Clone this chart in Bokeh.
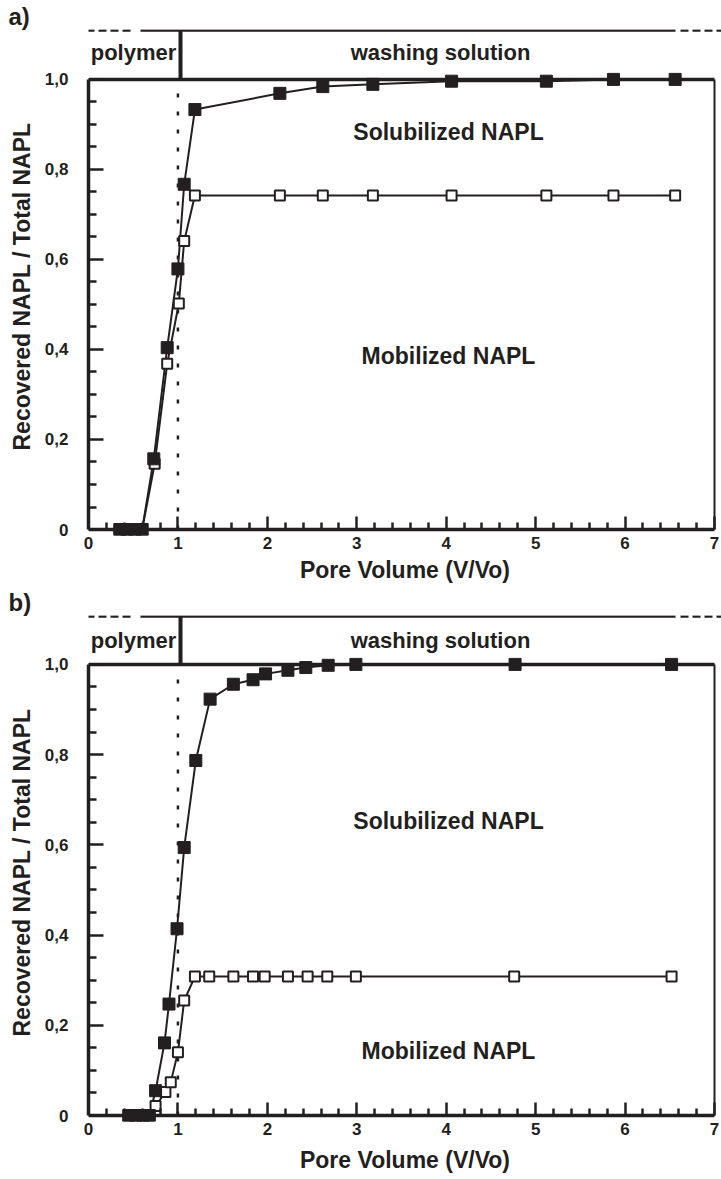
from bokeh.plotting import figure
from bokeh.layouts import column
from bokeh.models import Range1d, FixedTicker, LinearAxis, Title
from bokeh.embed import file_html
from bokeh.resources import INLINE
from bokeh.core.properties import value

INK = "#231f20"
FONT = "Liberation Sans"

# ---------------- data ----------------
# panel a
pv_a_filled = [0.35, 0.43, 0.52, 0.60, 0.73, 0.88, 1.00, 1.07, 1.19, 2.14, 2.62, 3.18, 4.06, 5.12, 5.87, 6.56]
rec_a_filled = [0.0, 0.0, 0.0, 0.0, 0.157, 0.404, 0.579, 0.767, 0.933, 0.969, 0.984, 0.989, 0.996, 0.996, 1.0, 1.0]
pv_a_open = [0.35, 0.43, 0.52, 0.60, 0.74, 0.88, 1.01, 1.07, 1.19, 2.14, 2.62, 3.18, 4.06, 5.12, 5.87, 6.56]
rec_a_open = [0.0, 0.0, 0.0, 0.0, 0.146, 0.368, 0.502, 0.641, 0.742, 0.742, 0.742, 0.742, 0.742, 0.742, 0.742, 0.742]

# panel b
pv_b_filled = [0.45, 0.53, 0.61, 0.68, 0.75, 0.85, 0.90, 0.99, 1.07, 1.20, 1.36, 1.62, 1.84, 1.98, 2.23, 2.43, 2.68, 2.99, 4.77, 6.52]
rec_b_filled = [0.0, 0.0, 0.0, 0.0, 0.055, 0.161, 0.247, 0.414, 0.594, 0.787, 0.923, 0.956, 0.966, 0.979, 0.987, 0.993, 0.998, 1.0, 1.0, 1.0]
pv_b_open = [0.45, 0.53, 0.61, 0.68, 0.75, 0.86, 0.92, 1.00, 1.07, 1.19, 1.35, 1.62, 1.84, 1.97, 2.23, 2.45, 2.67, 2.99, 4.76, 6.52]
rec_b_open = [0.0, 0.0, 0.0, 0.0, 0.021, 0.052, 0.074, 0.14, 0.255, 0.308, 0.308, 0.308, 0.308, 0.308, 0.308, 0.308, 0.308, 0.308, 0.308, 0.308]

# ticks and texts
x_tick_values = [0, 1, 2, 3, 4, 5, 6, 7]
x_tick_labels = ["0", "1", "2", "3", "4", "5", "6", "7"]
x_minor_ticks = [0.2, 0.4, 0.6, 0.8, 1.2, 1.4, 1.6, 1.8, 2.2, 2.4, 2.6, 2.8, 3.2, 3.4, 3.6, 3.8,
                 4.2, 4.4, 4.6, 4.8, 5.2, 5.4, 5.6, 5.8, 6.2, 6.4, 6.6, 6.8]
y_tick_values = [0, 0.2, 0.4, 0.6, 0.8, 1.0]
y_tick_labels = ["0", "0,2", "0,4", "0,6", "0,8", "1,0"]
y_minor_ticks = [0.05, 0.1, 0.15, 0.25, 0.3, 0.35, 0.45, 0.5, 0.55, 0.65, 0.7, 0.75, 0.85, 0.9, 0.95]
x_axis_title = "Pore Volume (V/Vo)"
y_axis_title = "Recovered NAPL / Total NAPL"
phase_labels = ["polymer", "washing solution"]
phase_switch_pv = 1.0
region_labels = ["Solubilized NAPL", "Mobilized NAPL"]
panel_letters = ["a)", "b)"]

# ---------------- layout geometry (pixels) ----------------
W = 721
LEFT = 88          # x = 0
X7 = 714           # x = 7
XS = (X7 - LEFT) / 7.0
XMAX = (W - LEFT) / XS
TOP = 28           # frame top inside each panel canvas (room for the panel letter)
BELOW = 6          # frame extends this far below y = 0 so the markers at 0 are whole


def xd(px):
    return (px - LEFT) / XS


def style_axis(ax):
    ax.axis_line_color = INK
    ax.axis_line_width = 3.5
    ax.major_tick_line_color = INK
    ax.minor_tick_line_color = INK
    ax.major_tick_line_width = 2.5
    ax.minor_tick_line_width = 2.5
    ax.major_tick_out = 0
    ax.minor_tick_out = 0
    ax.major_label_text_font = FONT
    ax.major_label_text_font_style = "bold"
    ax.major_label_text_font_size = "17px"
    ax.major_label_text_color = INK
    ax.axis_label_text_font = FONT
    ax.axis_label_text_font_style = "bold"
    ax.axis_label_text_font_size = "23px"
    ax.axis_label_text_color = INK


def make_panel(letter, pvf, recf, pvo, reco, H, one_px, zero_px, head_px, head_text_px,
               sol_px, mob_px, title_standoff):
    S = zero_px - one_px
    frame_bottom = zero_px + BELOW

    def yd(px):
        return (zero_px - px) / S

    p = figure(width=W, height=H, output_backend="svg", toolbar_location=None,
               x_range=Range1d(0, XMAX),
               y_range=Range1d(-BELOW / S, (zero_px - TOP) / S),
               min_border_left=LEFT, min_border_right=0, min_border_top=TOP,
               min_border_bottom=H - frame_bottom)
    p.outline_line_color = None
    p.xgrid.visible = False
    p.ygrid.visible = False
    p.background_fill_color = "white"
    p.border_fill_color = "white"

    # panel letter
    p.title.text = letter
    p.title.align = "left"
    p.title.offset = 8 - LEFT
    p.title.standoff = 0
    p.title.text_font = FONT
    p.title.text_font_style = "bold"
    p.title.text_font_size = "24px"
    p.title.text_color = INK

    # x axis line and ticks at y = 0
    xa = p.xaxis[0]
    style_axis(xa)
    xa.fixed_location = 0
    xa.bounds = (0, 7)
    xa.ticker = FixedTicker(ticks=x_tick_values, minor_ticks=x_minor_ticks)
    xa.major_tick_in = 13
    xa.minor_tick_in = 7
    xa.major_label_text_color = None

    # x tick labels and title
    xl = LinearAxis(ticker=FixedTicker(ticks=x_tick_values, minor_ticks=[]),
                    major_label_overrides=dict(zip(x_tick_values, x_tick_labels)),
                    axis_label=x_axis_title, bounds=(0, 7))
    style_axis(xl)
    xl.axis_line_color = None
    xl.major_tick_line_color = None
    xl.minor_tick_line_color = None
    xl.major_tick_in = 0
    xl.minor_tick_in = 0
    xl.major_label_standoff = 1
    xl.axis_label_standoff = title_standoff
    p.add_layout(xl, "below")

    # y axis
    ya = p.yaxis[0]
    style_axis(ya)
    ya.bounds = (0, 1)
    ya.ticker = FixedTicker(ticks=y_tick_values, minor_ticks=y_minor_ticks)
    ya.major_label_overrides = dict(zip(y_tick_values, y_tick_labels))
    ya.major_tick_in = 15
    ya.minor_tick_in = 8
    ya.major_label_standoff = 20

    # y axis title (starts 79 px above the x axis)
    yt = Title(text=y_axis_title, align="left", offset=79 + BELOW, standoff=13,
               text_font=FONT, text_font_style="bold", text_font_size="23px",
               text_color=INK)
    p.add_layout(yt, "left")

    # frame top and right edges
    p.line([0, 7], [1, 1], line_color=INK, line_width=3.5)
    p.line([7, 7], [0, 1], line_color=INK, line_width=2)

    # header band: polymer | washing solution
    yh = yd(head_px)
    p.line([xd(86), xd(132)], [yh, yh], line_color=INK, line_width=2.5, line_dash="8 4")
    p.line([xd(140), xd(675)], [yh, yh], line_color=INK, line_width=2.5)
    p.line([xd(680), xd(721)], [yh, yh], line_color=INK, line_width=2.5, line_dash="8 4")
    p.line([xd(180), xd(180)], [1, yh], line_color=INK, line_width=4)
    p.text(x=[xd(133), xd(440)], y=[yd(head_text_px)] * 2, text=phase_labels,
           text_font=value(FONT), text_font_style="bold", text_font_size="22px",
           text_color=INK, text_align="center", text_baseline="middle")

    # dotted line at the switch to washing solution
    p.line([phase_switch_pv, phase_switch_pv], [0, 1], line_color=INK, line_width=2.5,
           line_dash="4 14")

    # region labels
    p.text(x=[xd(448), xd(448)], y=[yd(sol_px), yd(mob_px)], text=region_labels,
           text_font=value(FONT), text_font_style="bold", text_font_size="23px",
           text_color=INK, text_align="center", text_baseline="middle")

    # series
    p.line(pvo, reco, line_color=INK, line_width=2)
    p.line(pvf, recf, line_color=INK, line_width=2)
    p.scatter(pvo, reco, marker="square", size=10, fill_color="white",
              line_color=INK, line_width=2)
    p.scatter(pvf, recf, marker="square", size=12, fill_color=INK, line_color=INK)
    return p


# panel a canvas: 0..586 ; panel b canvas: 586..1179
OB = 586
pa = make_panel(panel_letters[0], pv_a_filled, rec_a_filled, pv_a_open, rec_a_open,
                H=OB, one_px=78, zero_px=529, head_px=29, head_text_px=51,
                sol_px=131, mob_px=355, title_standoff=5)
pb = make_panel(panel_letters[1], pv_b_filled, rec_b_filled, pv_b_open, rec_b_open,
                H=1179 - OB, one_px=663 - OB, zero_px=1115 - OB, head_px=615 - OB,
                head_text_px=639 - OB, sol_px=820 - OB, mob_px=1050 - OB, title_standoff=9)

layout = column(pa, pb, spacing=0)
open("out.html", "w").write(file_html(layout, INLINE))
